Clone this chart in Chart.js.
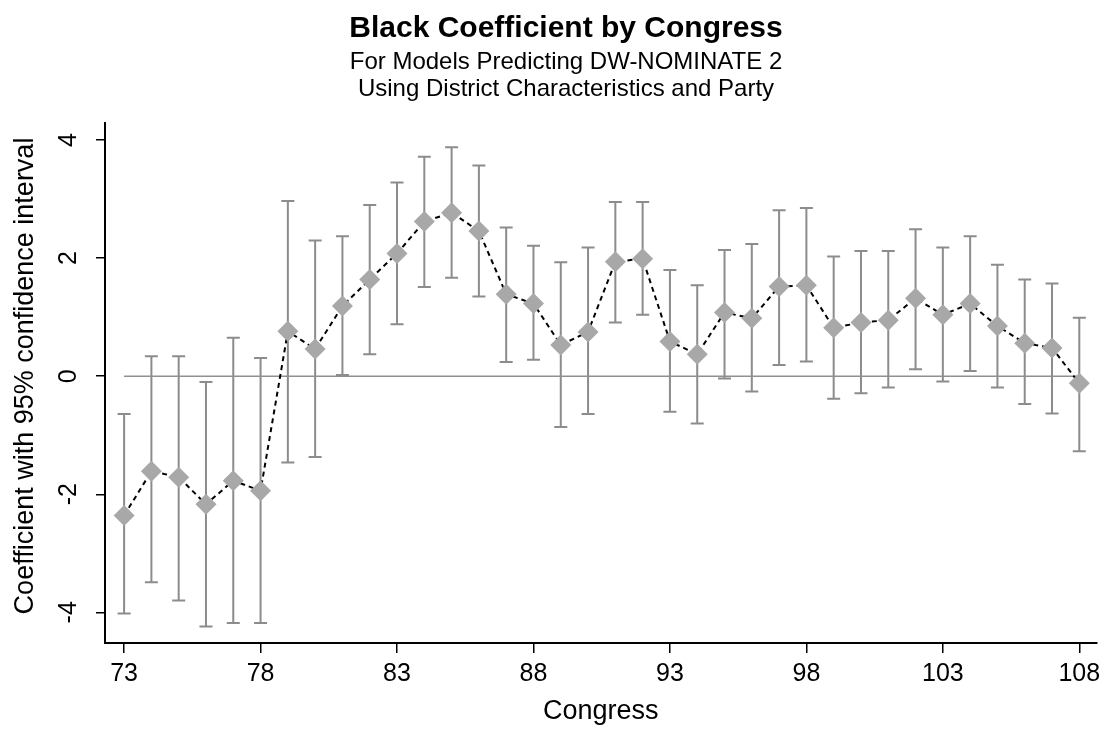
<!DOCTYPE html>
<html>
<head>
<meta charset="utf-8">
<script src="https://cdn.jsdelivr.net/npm/chart.js@4/dist/chart.umd.min.js"></script>
<style>
  html, body { margin: 0; padding: 0; background: #ffffff; }
  #wrap { width: 1107px; height: 729px; }
</style>
</head>
<body>
<div id="wrap"><canvas id="c" width="1107" height="729"></canvas></div>
<script>
const congress = [73,74,75,76,77,78,79,80,81,82,83,84,85,86,87,88,89,90,91,92,93,94,95,96,97,98,99,100,101,102,103,104,105,106,107,108];
const coef  = [-2.36,-1.61,-1.71,-2.17,-1.77,-1.94,0.76,0.46,1.19,1.64,2.08,2.62,2.77,2.46,1.39,1.23,0.53,0.75,1.94,1.99,0.59,0.37,1.08,0.98,1.52,1.54,0.82,0.91,0.95,1.32,1.04,1.23,0.85,0.56,0.48,-0.12];
const upper = [-0.64,0.34,0.34,-0.10,0.65,0.31,2.97,2.30,2.37,2.90,3.28,3.72,3.88,3.57,2.52,2.21,1.93,2.18,2.95,2.95,1.80,1.54,2.14,2.24,2.81,2.85,2.03,2.12,2.12,2.49,2.18,2.37,1.89,1.64,1.57,0.99];
const lower = [-4.02,-3.49,-3.80,-4.24,-4.18,-4.18,-1.46,-1.37,0.02,0.37,0.88,1.51,1.67,1.35,0.24,0.28,-0.86,-0.64,0.91,1.04,-0.60,-0.80,-0.04,-0.26,0.19,0.25,-0.38,-0.29,-0.19,0.12,-0.09,0.09,-0.19,-0.47,-0.63,-1.27];
const xTicks = [73,78,83,88,93,98,103,108];
const yTicks = [-4,-2,0,2,4];
const titleText = "Black Coefficient by Congress";
const subtitleLines = ["For Models Predicting DW-NOMINATE 2", "Using District Characteristics and Party"];
const xTitle = "Congress";
const yTitle = "Coefficient with 95% confidence interval";

const FONT = "'Liberation Sans', Arial, Helvetica, sans-serif";

const errorBars = {
  id: 'errorBars',
  beforeDatasetsDraw(chart) {
    const ctx = chart.ctx, xs = chart.scales.x, ys = chart.scales.y;
    ctx.save();
    ctx.strokeStyle = '#8c8c8c';
    ctx.lineWidth = 2;
    for (let i = 0; i < congress.length; i++) {
      const px = xs.getPixelForValue(congress[i]);
      const pt = ys.getPixelForValue(upper[i]);
      const pb = ys.getPixelForValue(lower[i]);
      ctx.beginPath();
      ctx.moveTo(px, pt); ctx.lineTo(px, pb);
      ctx.moveTo(px - 6.5, pt); ctx.lineTo(px + 6.5, pt);
      ctx.moveTo(px - 6.5, pb); ctx.lineTo(px + 6.5, pb);
      ctx.stroke();
    }
    ctx.restore();
  }
};

const texts = {
  id: 'texts',
  afterDraw(chart) {
    const ctx = chart.ctx, ys = chart.scales.y;
    ctx.save();
    ctx.fillStyle = '#000';
    ctx.textAlign = 'center';
    ctx.textBaseline = 'middle';
    ctx.font = 'bold 30px ' + FONT;
    ctx.fillText(titleText, 566, 29);
    ctx.font = '24px ' + FONT;
    ctx.fillText(subtitleLines[0], 566, 62);
    ctx.fillText(subtitleLines[1], 566, 89);
    // y tick labels, rotated
    ctx.font = '25px ' + FONT;
    ys.ticks.forEach(t => {
      const py = ys.getPixelForValue(t.value);
      ctx.save();
      ctx.translate(69, py);
      ctx.rotate(-Math.PI / 2);
      ctx.fillText(String(t.value), 0, 0);
      ctx.restore();
    });
    // y axis title
    ctx.font = '27px ' + FONT;
    ctx.save();
    ctx.translate(26, 376);
    ctx.rotate(-Math.PI / 2);
    ctx.fillText(yTitle, 0, 0);
    ctx.restore();
    ctx.restore();
  }
};

new Chart(document.getElementById('c'), {
  type: 'line',
  data: {
    datasets: [
      {
        data: congress.map((c, i) => ({x: c, y: coef[i]})),
        borderColor: '#000000',
        borderWidth: 2,
        borderDash: [5, 4],
        pointStyle: 'rectRot',
        pointRadius: 10.5,
        pointHoverRadius: 10.5,
        pointBackgroundColor: '#a8a8a8',
        pointBorderColor: '#a8a8a8',
        pointBorderWidth: 0,
        tension: 0,
        order: 0
      },
      {
        data: [{x: congress[0], y: 0}, {x: congress[congress.length - 1], y: 0}],
        borderColor: '#909090',
        borderWidth: 1.5,
        pointRadius: 0,
        order: 5
      }
    ]
  },
  options: {
    responsive: false,
    animation: false,
    devicePixelRatio: 1,
    layout: { padding: { top: 123, left: 0, right: 9, bottom: 0 } },
    plugins: { legend: { display: false }, tooltip: { enabled: false }, title: { display: false } },
    scales: {
      x: {
        type: 'linear',
        min: 72.3,
        max: 108.63,
        afterBuildTicks(s) { s.ticks = xTicks.map(v => ({value: v})); },
        afterFit(s) { s.height = 86; },
        grid: { drawOnChartArea: false, drawTicks: true, tickLength: 10, color: '#000', lineWidth: 1.5 },
        border: { display: true, color: '#000', width: 2 },
        ticks: { color: '#000', font: { family: FONT, size: 25 }, padding: 6, maxRotation: 0, minRotation: 0 },
        title: { display: true, text: xTitle, color: '#000', font: { family: FONT, size: 27 }, padding: { top: 0, bottom: 1 } }
      },
      y: {
        type: 'linear',
        min: -4.52,
        max: 4.29,
        afterBuildTicks(s) { s.ticks = yTicks.map(v => ({value: v})); },
        afterFit(s) { s.width = 105; },
        grid: { drawOnChartArea: false, drawTicks: true, tickLength: 9, color: '#000', lineWidth: 1.5 },
        border: { display: true, color: '#000', width: 2 },
        ticks: { color: 'rgba(0,0,0,0)', font: { family: FONT, size: 25 } },
        title: { display: false }
      }
    }
  },
  plugins: [errorBars, texts]
});
</script>
</body>
</html>
